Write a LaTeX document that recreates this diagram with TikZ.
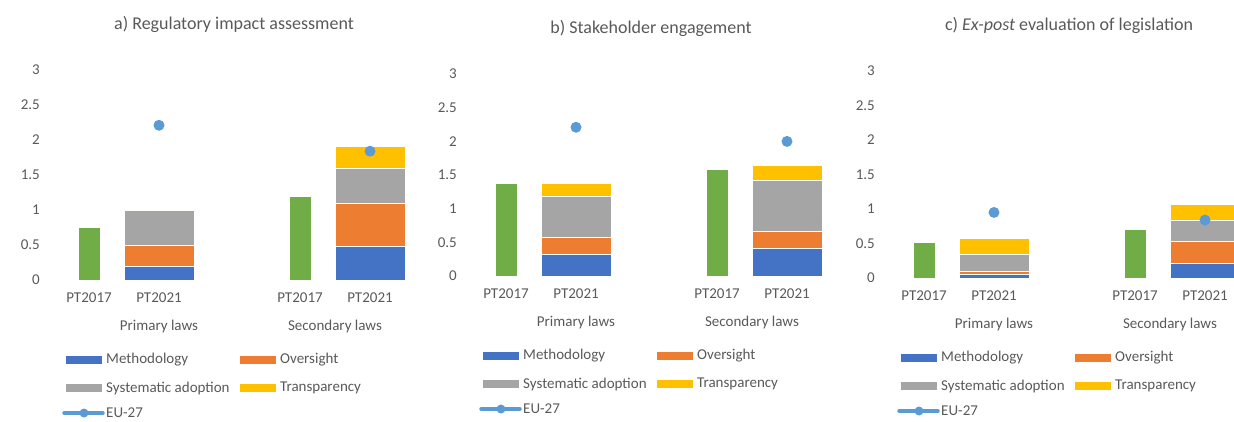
\documentclass[tikz,border=0pt]{standalone}
\usepackage{fontspec}
\setmainfont{Carlito}
\usepackage{xcolor}
\usepackage{tikz}
\usetikzlibrary{positioning}

\definecolor{methblue}{HTML}{4472C4}
\definecolor{oversorange}{HTML}{ED7D31}
\definecolor{adoptgray}{HTML}{A5A5A5}
\definecolor{transyellow}{HTML}{FFC000}
\definecolor{oldgreen}{HTML}{70AD47}
\definecolor{eublue}{HTML}{5B9BD5}
\definecolor{labelgray}{HTML}{595959}

\tikzset{
  seg/.style={draw=white,line width=0.3pt},
  ticklabel/.style={anchor=east,inner sep=0pt,text=labelgray,font=\fontsize{15}{17}\selectfont},
  catlabel/.style={inner sep=0pt,text=labelgray,font=\fontsize{15}{17}\selectfont},
  paneltitle/.style={inner sep=0pt,yshift=46pt,text=labelgray,font=\fontsize{18}{20}\selectfont},
  legtext/.style={anchor=west,inner sep=0pt,text=labelgray,font=\fontsize{15}{17}\selectfont},
  eudot/.style={circle,fill=eublue,inner sep=0pt,minimum size=11pt},
}

% green PT2017 bar: #1 left edge, #2 value
\newcommand{\oldbar}[2]{\filldraw[seg,fill=oldgreen] (#1,0) rectangle (#1+22,#2);}

% stacked PT2021 bar: #1 left edge, #2-#5 methodology, oversight, adoption, transparency
\newcommand{\stackbar}[5]{%
  \pgfmathsetmacro{\ya}{#2}%
  \pgfmathsetmacro{\yb}{#2+#3}%
  \pgfmathsetmacro{\yc}{#2+#3+#4}%
  \pgfmathsetmacro{\yd}{#2+#3+#4+#5}%
  \filldraw[seg,fill=methblue] (#1,0) rectangle (#1+70,\ya);
  \filldraw[seg,fill=oversorange] (#1,\ya) rectangle (#1+70,\yb);
  \filldraw[seg,fill=adoptgray] (#1,\yb) rectangle (#1+70,\yc);
  \filldraw[seg,fill=transyellow] (#1,\yc) rectangle (#1+70,\yd);
}

% axis, categories and legend of one panel: #1 panel name, #2 title
\newcommand{\chartframe}[2]{%
  \node[paneltitle] (#1-title) at (234,3) {#2};
  \foreach \v [count=\i] in {0,0.5,1,1.5,2,2.5,3}
    \node[ticklabel] (#1-y\i) at (40,\v) {\v};
  \node[catlabel] (#1-p17) at (89pt,-18pt) {PT2017};
  \node[catlabel] (#1-p21) at (159pt,-18pt) {PT2021};
  \node[catlabel] (#1-s17) at (300pt,-18pt) {PT2017};
  \node[catlabel] (#1-s21) at (370pt,-18pt) {PT2021};
  \node[catlabel] (#1-prim) at (159pt,-46pt) {Primary laws};
  \node[catlabel] (#1-sec) at (335pt,-46pt) {Secondary laws};
  % legend
  \fill[methblue] (66pt,-84pt) rectangle (102pt,-76pt);
  \node[legtext] (#1-lmeth) at (106pt,-80pt) {Methodology};
  \fill[oversorange] (240pt,-84pt) rectangle (276pt,-76pt);
  \node[legtext] (#1-lovers) at (280pt,-80pt) {Oversight};
  \fill[adoptgray] (66pt,-112pt) rectangle (102pt,-104pt);
  \node[legtext] (#1-ladopt) at (106pt,-108pt) {Systematic adoption};
  \fill[transyellow] (240pt,-112pt) rectangle (276pt,-104pt);
  \node[legtext] (#1-ltrans) at (280pt,-108pt) {Transparency};
  \coordinate (#1-lineL) at (64pt,-133pt);
  \coordinate (#1-lineR) at (103pt,-133pt);
  \draw[eublue,line width=3.5pt,line cap=round] (#1-lineL) -- (#1-lineR);
  \node[eudot,minimum size=9pt] (#1-ldot) at (84pt,-133pt) {};
  \node[legtext] (#1-leu) at (106pt,-133pt) {EU-27};
}

\begin{document}
\begin{tikzpicture}[x=1pt,y=1pt]
  \useasboundingbox (0,0) rectangle (1234,421);
  % a) regulatory impact assessment
  \begin{scope}[shift={(0pt,141pt)},y=70pt]
    \chartframe{a}{a) Regulatory impact assessment}
    \oldbar{78}{0.76}
    \stackbar{124}{0.2}{0.3}{0.5}{0}
    \oldbar{289}{1.2}
    \stackbar{335}{0.49}{0.61}{0.5}{0.31}
    \node[eudot] (a-eu1) at (159,2.21) {};
    \node[eudot] (a-eu2) at (370,1.84) {};
  \end{scope}
  % b) stakeholder engagement
  \begin{scope}[shift={(417pt,145pt)},y=67.3pt]
    \chartframe{b}{b) Stakeholder engagement}
    \oldbar{78}{1.38}
    \stackbar{124}{0.33}{0.25}{0.61}{0.19}
    \oldbar{289}{1.59}
    \stackbar{335}{0.42}{0.25}{0.76}{0.22}
    \node[eudot] (b-eu1) at (159,2.21) {};
    \node[eudot] (b-eu2) at (370,2.0) {};
  \end{scope}
  % c) ex-post evaluation
  \begin{scope}[shift={(835pt,143pt)},y=69pt]
    \chartframe{c}{c) \textit{Ex-post} evaluation of legislation}
    \oldbar{78}{0.52}
    \stackbar{124}{0.06}{0.04}{0.25}{0.23}
    \oldbar{289}{0.71}
    \stackbar{335}{0.22}{0.31}{0.31}{0.23}
    \node[eudot] (c-eu1) at (159,0.95) {};
    \node[eudot] (c-eu2) at (370,0.84) {};
  \end{scope}
\end{tikzpicture}
\end{document}
